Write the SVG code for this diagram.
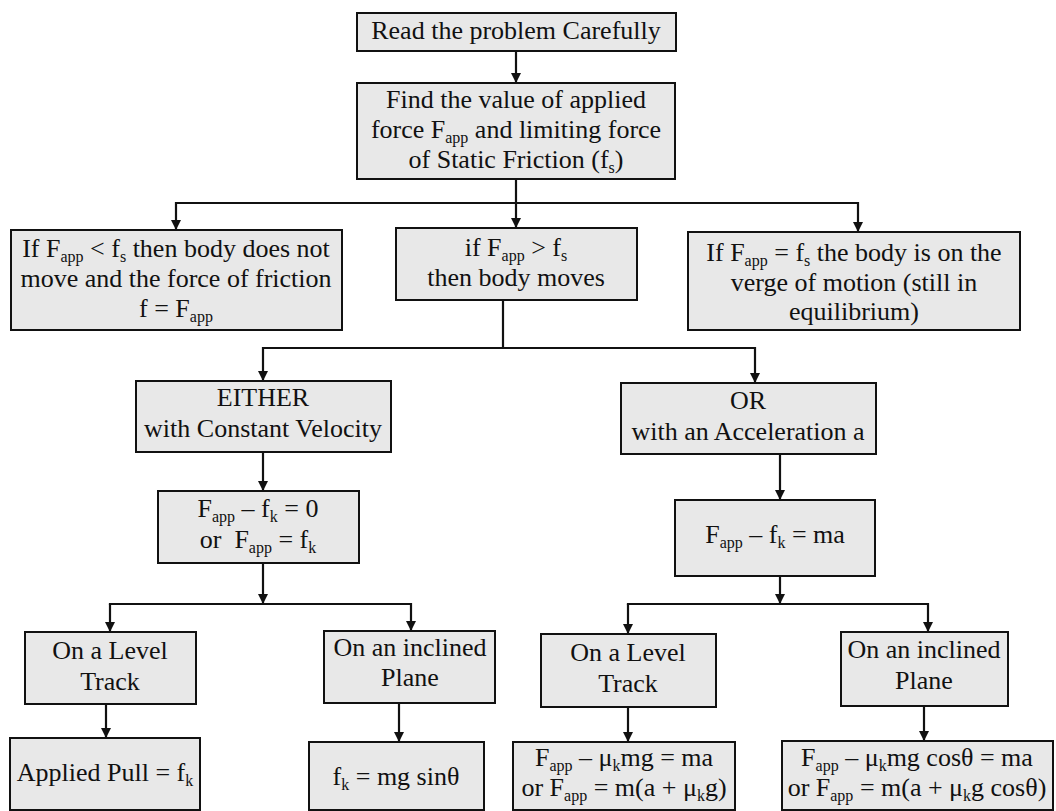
<svg xmlns="http://www.w3.org/2000/svg" width="1056" height="811" viewBox="0 0 1056 811">
<style>
.box{fill:#e8e8e8;stroke:#111;stroke-width:2}
.t{font-family:"Liberation Serif","Times New Roman",serif;font-size:26px;fill:#111;text-anchor:middle}
.s{font-size:16px}
.c{fill:none;stroke:#111;stroke-width:2.2}
</style>
<defs>
<marker id="ah" markerUnits="userSpaceOnUse" markerWidth="10" markerHeight="10" refX="10" refY="5" orient="auto">
<path d="M0,0 L10,5 L0,10 z" fill="#111"/>
</marker>
</defs>
<rect width="1056" height="811" fill="#fff"/>

<g id="connectors">
<path class="c" d="M516,51 V83" marker-end="url(#ah)"/>
<path class="c" d="M516,179 V228" marker-end="url(#ah)"/>
<path class="c" d="M516,203 H176 V230" marker-end="url(#ah)"/>
<path class="c" d="M516,203 H858 V232" marker-end="url(#ah)"/>
<path class="c" d="M503,300 V348 H263 V381" marker-end="url(#ah)"/>
<path class="c" d="M503,348 H755 V383" marker-end="url(#ah)"/>
<path class="c" d="M263,452 V491" marker-end="url(#ah)"/>
<path class="c" d="M780,454 V500" marker-end="url(#ah)"/>
<path class="c" d="M263,563 V604" marker-end="url(#ah)"/>
<path class="c" d="M110,605 V604 H411 V631" marker-end="url(#ah)"/>
<path class="c" d="M110,604 V632" marker-end="url(#ah)"/>
<path class="c" d="M780,576 V604" marker-end="url(#ah)"/>
<path class="c" d="M628,605 V604 H928 V632" marker-end="url(#ah)"/>
<path class="c" d="M628,604 V634" marker-end="url(#ah)"/>
<path class="c" d="M106,704 V738" marker-end="url(#ah)"/>
<path class="c" d="M399,703 V742" marker-end="url(#ah)"/>
<path class="c" d="M628,707 V742" marker-end="url(#ah)"/>
<path class="c" d="M924,706 V741" marker-end="url(#ah)"/>
</g>

<g id="n1">
<rect class="box" x="357" y="13" width="319" height="38"/>
<text class="t" x="516" y="39">Read the problem Carefully</text>
</g>
<g id="n2">
<rect class="box" x="357" y="83" width="318" height="96"/>
<text class="t" x="516" y="108">Find the value of applied</text>
<text class="t" x="516" y="138">force F<tspan class="s" dy="5">app</tspan><tspan dy="-5"> and limiting force</tspan></text>
<text class="t" x="516" y="168">of Static Friction (f<tspan class="s" dy="5">s</tspan><tspan dy="-5">)</tspan></text>
</g>
<g id="n3">
<rect class="box" x="11" y="230" width="331" height="100"/>
<text class="t" x="176" y="257">If F<tspan class="s" dy="5">app</tspan><tspan dy="-5"> &lt; f</tspan><tspan class="s" dy="5">s</tspan><tspan dy="-5"> then body does not</tspan></text>
<text class="t" x="176" y="287">move and the force of friction</text>
<text class="t" x="176" y="317">f = F<tspan class="s" dy="5">app</tspan></text>
</g>
<g id="n4">
<rect class="box" x="396" y="228" width="241" height="72"/>
<text class="t" x="516" y="256">if F<tspan class="s" dy="5">app</tspan><tspan dy="-5"> &gt; f</tspan><tspan class="s" dy="5">s</tspan></text>
<text class="t" x="516" y="286">then body moves</text>
</g>
<g id="n5">
<rect class="box" x="688" y="232" width="332" height="98"/>
<text class="t" x="854" y="261">If F<tspan class="s" dy="5">app</tspan><tspan dy="-5"> = f</tspan><tspan class="s" dy="5">s</tspan><tspan dy="-5"> the body is on the</tspan></text>
<text class="t" x="854" y="291">verge of motion (still in</text>
<text class="t" x="854" y="320">equilibrium)</text>
</g>
<g id="n6">
<rect class="box" x="136" y="381" width="255" height="71"/>
<text class="t" x="263" y="406">EITHER</text>
<text class="t" x="263" y="437">with Constant Velocity</text>
</g>
<g id="n7">
<rect class="box" x="621" y="383" width="255" height="71"/>
<text class="t" x="748" y="409">OR</text>
<text class="t" x="748" y="440">with an Acceleration a</text>
</g>
<g id="n8">
<rect class="box" x="158" y="491" width="201" height="72"/>
<text class="t" x="258" y="517">F<tspan class="s" dy="5">app</tspan><tspan dy="-5"> – f</tspan><tspan class="s" dy="5">k</tspan><tspan dy="-5"> = 0</tspan></text>
<text class="t" x="258" y="548">or&#160; F<tspan class="s" dy="5">app</tspan><tspan dy="-5"> = f</tspan><tspan class="s" dy="5">k</tspan></text>
</g>
<g id="n9">
<rect class="box" x="675" y="500" width="200" height="76"/>
<text class="t" x="775" y="543">F<tspan class="s" dy="5">app</tspan><tspan dy="-5"> – f</tspan><tspan class="s" dy="5">k</tspan><tspan dy="-5"> = ma</tspan></text>
</g>
<g id="n10">
<rect class="box" x="25" y="632" width="171" height="72"/>
<text class="t" x="110" y="659">On a Level</text>
<text class="t" x="110" y="690">Track</text>
</g>
<g id="n11">
<rect class="box" x="324" y="631" width="171" height="72"/>
<text class="t" x="410" y="656">On an inclined</text>
<text class="t" x="410" y="686">Plane</text>
</g>
<g id="n12">
<rect class="box" x="541" y="634" width="175" height="73"/>
<text class="t" x="628" y="661">On a Level</text>
<text class="t" x="628" y="692">Track</text>
</g>
<g id="n13">
<rect class="box" x="841" y="632" width="167" height="74"/>
<text class="t" x="924" y="658">On an inclined</text>
<text class="t" x="924" y="689">Plane</text>
</g>
<g id="n14">
<rect class="box" x="10" y="738" width="190" height="72"/>
<text class="t" x="105" y="781">Applied Pull = f<tspan class="s" dy="5">k</tspan></text>
</g>
<g id="n15">
<rect class="box" x="309" y="742" width="175" height="68"/>
<text class="t" x="396" y="785">f<tspan class="s" dy="5">k</tspan><tspan dy="-5"> = mg sinθ</tspan></text>
</g>
<g id="n16">
<rect class="box" x="513" y="742" width="222" height="68"/>
<text class="t" x="624" y="766">F<tspan class="s" dy="5">app</tspan><tspan dy="-5"> – μ</tspan><tspan class="s" dy="5">k</tspan><tspan dy="-5">mg = ma</tspan></text>
<text class="t" x="624" y="796">or F<tspan class="s" dy="5">app</tspan><tspan dy="-5"> = m(a + μ</tspan><tspan class="s" dy="5">k</tspan><tspan dy="-5">g)</tspan></text>
</g>
<g id="n17">
<rect class="box" x="782" y="741" width="271" height="69"/>
<text class="t" x="917" y="766">F<tspan class="s" dy="5">app</tspan><tspan dy="-5"> – μ</tspan><tspan class="s" dy="5">k</tspan><tspan dy="-5">mg cosθ = ma</tspan></text>
<text class="t" x="917" y="796">or F<tspan class="s" dy="5">app</tspan><tspan dy="-5"> = m(a + μ</tspan><tspan class="s" dy="5">k</tspan><tspan dy="-5">g cosθ)</tspan></text>
</g>
</svg>
